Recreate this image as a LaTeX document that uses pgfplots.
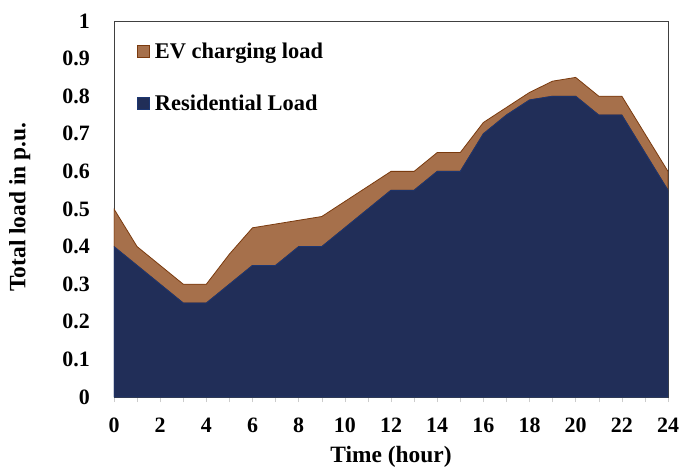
\documentclass[border=0pt]{standalone}
\usepackage{fontspec}
\setmainfont{Liberation Serif}
\usepackage{pgfplots}
\pgfplotsset{compat=1.18}
\definecolor{evfill}{HTML}{A6704B}
\definecolor{evline}{HTML}{7A3A0E}
\definecolor{resfill}{HTML}{212E58}
\definecolor{resline}{HTML}{1C3672}
\begin{document}
\begin{tikzpicture}
\begin{axis}[
  scale only axis,
  width=554bp, height=376bp,
  xmin=0, xmax=24, ymin=0, ymax=1,
  stack plots=y,
  axis line style={draw=black!75},
  xtick={0,2,...,24},
  minor xtick={1,3,...,23},
  xtick pos=bottom, tick align=outside,
  major tick length=5bp, minor tick length=5bp,
  every tick/.style={draw=black!20},
  ytick={0,0.1,...,1.01},
  yticklabels={0,0.1,0.2,0.3,0.4,0.5,0.6,0.7,0.8,0.9,1},
  ytick style={draw=none},
  /pgf/number format/assume math mode=true,
  tick label style={font=\fontsize{22}{25}\selectfont\bfseries},
  yticklabel style={anchor=east, inner sep=0pt, xshift=-19bp},
  xticklabel style={anchor=north, inner sep=0pt, yshift=-16bp},
  xlabel={Time (hour)}, ylabel={Total load in p.u.},
  xlabel style={font=\fontsize{23.5}{26}\selectfont\bfseries,
    at={(axis description cs:0.5,-0.158)}, anchor=center, inner sep=0pt},
  ylabel style={font=\fontsize{23.5}{26}\selectfont\bfseries,
    at={(axis description cs:-0.170,0.505)}, anchor=center, inner sep=0pt},
  reverse legend,
  legend style={at={(axis description cs:0.0415,0.948)}, anchor=north west, draw=none, fill=none,
    inner sep=0pt,
    font=\fontsize{22.5}{26}\selectfont\bfseries, row sep=31bp,
    /tikz/every odd column/.style={column sep=3bp}},
  legend cell align=left,
  legend image code/.code={\draw[#1] (0bp,-6bp) rectangle (12bp,6bp);},
]
\addplot[fill=resfill, draw=resline, line width=0.8pt] table[x=h,y=v] {
h v
0 0.40
1 0.35
2 0.30
3 0.25
4 0.25
5 0.30
6 0.35
7 0.35
8 0.40
9 0.40
10 0.45
11 0.50
12 0.55
13 0.55
14 0.60
15 0.60
16 0.70
17 0.75
18 0.79
19 0.80
20 0.80
21 0.75
22 0.75
23 0.65
24 0.55
} \closedcycle;
\addlegendentry{Residential Load}
\addplot[fill=evfill, draw=evline, line width=0.8pt] table[x=h,y=v] {
h v
0 0.10
1 0.05
2 0.05
3 0.05
4 0.05
5 0.08
6 0.10
7 0.11
8 0.07
9 0.08
10 0.07
11 0.06
12 0.05
13 0.05
14 0.05
15 0.05
16 0.03
17 0.02
18 0.02
19 0.04
20 0.05
21 0.05
22 0.05
23 0.05
24 0.05
} \closedcycle;
\addlegendentry{EV charging load}
\end{axis}
\path (current axis.origin) ++(-114bp,-73bp) rectangle ++(681bp,470bp);
\end{tikzpicture}
\end{document}
